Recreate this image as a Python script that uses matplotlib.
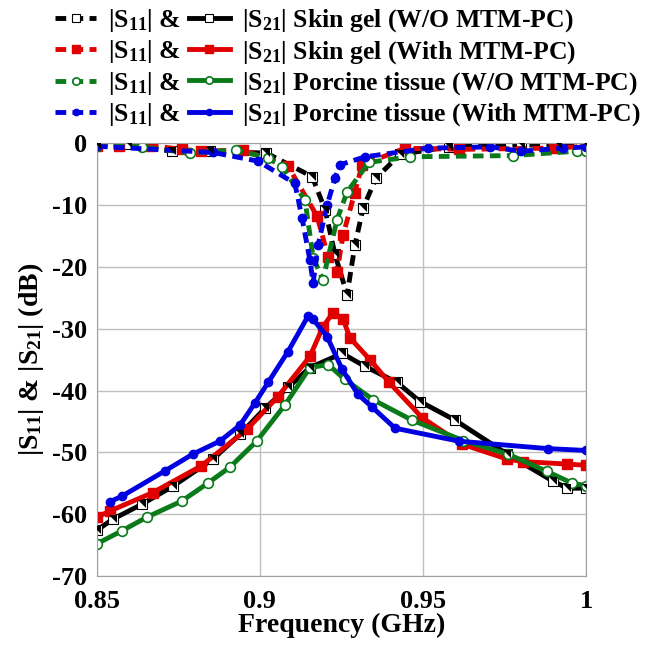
import numpy as np
import matplotlib.pyplot as plt
from matplotlib.path import Path

plt.rcParams['font.family'] = ['Liberation Serif', 'DejaVu Serif']
plt.rcParams['font.weight'] = 'bold'
plt.rcParams['mathtext.fontset'] = 'custom'
plt.rcParams['mathtext.rm'] = 'Liberation Serif:bold'
plt.rcParams['mathtext.default'] = 'rm'
plt.rcParams['axes.unicode_minus'] = False

# |S11| data (dB)
s11_skin_wo_f = [0.850, 0.8595, 0.873, 0.8847, 0.902, 0.916, 0.920, 0.923, 0.9267, 0.9291, 0.9316, 0.9356, 0.943, 0.958, 0.980, 0.9914, 1.0]
s11_skin_wo = [-0.3, -0.2, -1.3, -1.3, -1.6, -5.4, -10.8, -18.0, -24.5, -16.5, -10.5, -5.6, -1.8, -0.6, -0.3, -0.3, -0.3]
s11_skin_w_f = [0.850, 0.8568, 0.8666, 0.876, 0.882, 0.8948, 0.9086, 0.9175, 0.9209, 0.9236, 0.9255, 0.929, 0.9313, 0.9445, 0.961, 0.990, 1.0]
s11_skin_w = [-0.5, -0.5, -0.4, -1.0, -1.3, -1.1, -3.7, -11.8, -18.4, -20.8, -14.8, -8.1, -3.5, -0.8, -1.0, -0.8, -0.5]
s11_pork_wo_f = [0.850, 0.8638, 0.8785, 0.8926, 0.9025, 0.9067, 0.9138, 0.9163, 0.9193, 0.9236, 0.9267, 0.9334, 0.946, 0.9776, 0.997, 1.0]
s11_pork_wo = [-0.4, -0.6, -1.6, -1.1, -2.4, -3.8, -9.2, -18.5, -22.1, -12.4, -7.9, -3.1, -2.2, -2.0, -1.3, -1.3]
s11_pork_w_f = [0.850, 0.8856, 0.8994, 0.9107, 0.9129, 0.9153, 0.9163, 0.9178, 0.9206, 0.923, 0.9245, 0.9322, 0.9515, 0.9706, 0.980, 0.993, 1.0]
s11_pork_w = [-0.5, -1.5, -2.9, -6.5, -12.1, -18.9, -22.6, -16.5, -10.0, -5.6, -3.5, -2.2, -0.8, -0.6, -1.3, -0.8, -0.6]

# |S21| data (dB)
s21_skin_wo_f = [0.850, 0.855, 0.8638, 0.8733, 0.8856, 0.8939, 0.9015, 0.9086, 0.9153, 0.9252, 0.9322, 0.942, 0.9491, 0.9598, 0.9758, 0.9899, 0.9942, 1.0]
s21_skin_wo = [-62.6, -60.8, -58.4, -55.5, -51.1, -47.1, -42.9, -39.5, -36.3, -34.0, -36.1, -38.7, -41.8, -44.8, -50.3, -54.7, -55.8, -55.8]
s21_skin_w_f = [0.850, 0.854, 0.8672, 0.882, 0.896, 0.9055, 0.9153, 0.9193, 0.9224, 0.9255, 0.9276, 0.9337, 0.9396, 0.9497, 0.962, 0.9758, 0.9807, 0.9942, 1.0]
s21_skin_w = [-60.5, -59.5, -56.5, -52.2, -46.3, -41.0, -34.5, -29.7, -27.4, -28.5, -31.5, -35.0, -38.7, -44.4, -48.7, -51.1, -51.5, -51.9, -52.1]
s21_pork_wo_f = [0.850, 0.8577, 0.8653, 0.876, 0.884, 0.8908, 0.899, 0.9077, 0.9153, 0.9209, 0.926, 0.9347, 0.9466, 0.9623, 0.976, 0.988, 0.9957, 1.0]
s21_pork_wo = [-64.8, -62.7, -60.5, -57.9, -55.0, -52.4, -48.2, -42.3, -36.3, -35.8, -38.2, -41.5, -44.8, -48.1, -50.3, -53.1, -55.0, -55.4]
s21_pork_w_f = [0.854, 0.8577, 0.8709, 0.8794, 0.8877, 0.8939, 0.8985, 0.9025, 0.9086, 0.9147, 0.9163, 0.9206, 0.9252, 0.930, 0.9344, 0.9414, 0.961, 0.9883, 1.0]
s21_pork_w = [-58.0, -57.1, -53.0, -50.3, -48.2, -45.6, -42.0, -38.7, -33.7, -28.0, -28.5, -31.3, -36.6, -40.6, -42.7, -46.1, -48.2, -49.4, -49.7]

labels = ['Skin gel (W/O MTM-PC)', 'Skin gel (With MTM-PC)',
          'Porcine tissue (W/O MTM-PC)', 'Porcine tissue (With MTM-PC)']
colors = ['black', '#e00000', '#0a7a1a', '#0000e0']

# black markers: white square with a black triangle in the upper right half
tri = Path([(-1, 1), (1, 1), (1, -1), (-1, 1)], [Path.MOVETO, Path.LINETO, Path.LINETO, Path.CLOSEPOLY])
styles = [dict(marker='s', mfc='white', mec='black', ms=7, mew=0.8),
          dict(marker='s', mfc='#e00000', mec='#e00000', ms=7),
          dict(marker='o', mfc='white', mec='#0a7a1a', ms=7, mew=1.2),
          dict(marker='o', mfc='#0000e0', mec='#0000e0', ms=6)]

s11 = [(s11_skin_wo_f, s11_skin_wo), (s11_skin_w_f, s11_skin_w),
       (s11_pork_wo_f, s11_pork_wo), (s11_pork_w_f, s11_pork_w)]
s21 = [(s21_skin_wo_f, s21_skin_wo), (s21_skin_w_f, s21_skin_w),
       (s21_pork_wo_f, s21_pork_wo), (s21_pork_w_f, s21_pork_w)]

fig = plt.figure(figsize=(6.45, 6.45), dpi=100)
ax = fig.add_axes([0.150, 0.107, 0.759, 0.671])

h_dash = []
h_solid = []
for i in range(4):
    f, v = s11[i]
    ld, = ax.plot(f, v, color=colors[i], lw=3.5, ls=(0, (2.2, 1.3)), **styles[i])
    f, v = s21[i]
    ls_, = ax.plot(f, v, color=colors[i], lw=3.5, **styles[i])
    h_dash.append(ld)
    h_solid.append(ls_)
# black triangle halves on top of the black squares
for f, v in (s11[0], s21[0]):
    ax.plot(f, v, ls='none', marker=tri, ms=6, mfc='black', mec='black', mew=0, zorder=5)

ax.set_xlim(0.85, 1.0)
ax.set_ylim(-70, 0)
ax.set_xticks([0.85, 0.9, 0.95, 1.0])
ax.set_xticklabels(['0.85', '0.9', '0.95', '1'])
ax.set_yticks(np.arange(-70, 1, 10))
ax.grid(True, color='#c0c0c0', lw=1)
for s in ax.spines.values():
    s.set_color('#a0a0a0')
ax.tick_params(axis='both', length=0, labelsize=19)
ax.tick_params(axis='x', pad=10)
ax.tick_params(axis='y', pad=7)
ax.set_xlabel('Frequency (GHz)', fontsize=20, fontweight='bold', labelpad=0)
ax.set_ylabel('|S$_{11}$| & |S$_{21}$| (dB)', fontsize=20, fontweight='bold', labelpad=4)

leg = fig.legend(h_dash + h_solid, ['|S$_{11}$| &'] * 4 + ['|S$_{21}$| ' + l for l in labels],
                 ncol=2, loc='upper left', bbox_to_anchor=(0.05, 1.025), frameon=False,
                 prop={'family': 'Liberation Serif', 'weight': 'bold', 'size': 18.5},
                 handlelength=1.6, handletextpad=0.45, columnspacing=0.3, labelspacing=0.17,
                 markerscale=0.75)

fig.savefig('out.png', dpi=100)
